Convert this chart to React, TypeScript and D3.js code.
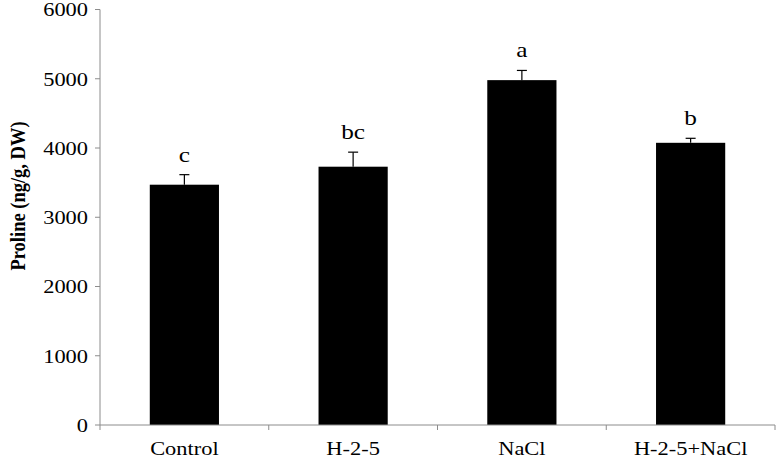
import React from "react";
import * as d3 from "d3";

const categories = ["Control", "H-2-5", "NaCl", "H-2-5+NaCl"];
const values = [3470, 3730, 4980, 4075];
const errors = [145, 210, 140, 65];
const letters = ["c", "bc", "a", "b"];
const yTicks = [0, 1000, 2000, 3000, 4000, 5000, 6000];

const SX = 1.15;

function T(props: { x: number; y: number; size: number; anchor?: string; children: React.ReactNode; dy?: string }) {
  return (
    <text
      transform={`translate(${props.x},${props.y}) scale(${SX},1)`}
      dy={props.dy}
      textAnchor={props.anchor || "middle"}
      fontSize={props.size}
      fill="#000"
    >
      {props.children}
    </text>
  );
}

export default function App() {
  const W = 777, H = 461;
  const left = 100, right = 775, top = 9.5, bottom = 425;
  const x = d3.scaleBand().domain(categories).range([left, right]).paddingInner(0.59).paddingOuter(0.295);
  const xb = d3.scaleBand().domain(categories).range([left, right]);
  const y = d3.scaleLinear().domain([0, 6000]).range([bottom, top]);
  const font = "'Liberation Serif', 'Times New Roman', serif";
  const axisColor = "#8c8c8c";
  const boundaries = categories.map((c) => xb(c)!).concat([right]);
  return (
    <svg width={W} height={H} style={{ position: "absolute", left: 0, top: 0, background: "#fff" }} fontFamily={font}>
      {/* y axis */}
      <line x1={left} x2={left} y1={y(6000)} y2={bottom} stroke={axisColor} strokeWidth={1} />
      {yTicks.map((t) => (
        <g key={t}>
          <line x1={left - 5} x2={left} y1={y(t)} y2={y(t)} stroke={axisColor} />
          <T x={left - 12} y={y(t)} dy="0.35em" anchor="end" size={19.5}>{t}</T>
        </g>
      ))}
      {/* bars */}
      {categories.map((c, i) => {
        const bx = x(c)!;
        const bw = x.bandwidth();
        const cx = bx + bw / 2;
        const yTop = y(values[i]);
        const yErr = y(values[i] + errors[i]);
        return (
          <g key={c}>
            <rect x={bx} y={yTop} width={bw} height={bottom - yTop} fill="#000" />
            <line x1={cx} x2={cx} y1={yTop} y2={yErr} stroke="#000" strokeWidth={1.2} />
            <line x1={cx - 5} x2={cx + 5} y1={yErr} y2={yErr} stroke="#000" strokeWidth={1.2} />
            <T x={cx} y={yErr - 13} size={22}>{letters[i]}</T>
          </g>
        );
      })}
      {/* x axis */}
      <line x1={left} x2={right} y1={bottom} y2={bottom} stroke={axisColor} strokeWidth={1} />
      {boundaries.map((b, i) => (
        <line key={i} x1={b} x2={b} y1={bottom} y2={bottom + 5} stroke={axisColor} />
      ))}
      {categories.map((c) => (
        <T key={c} x={xb(c)! + xb.bandwidth() / 2} y={455} size={19.5}>{c}</T>
      ))}
      <text transform={`translate(25, 196) rotate(-90) scale(1,${SX})`} textAnchor="middle" fontSize={18.5} fontWeight="bold" fill="#000">Proline (ng/g, DW)</text>
    </svg>
  );
}
